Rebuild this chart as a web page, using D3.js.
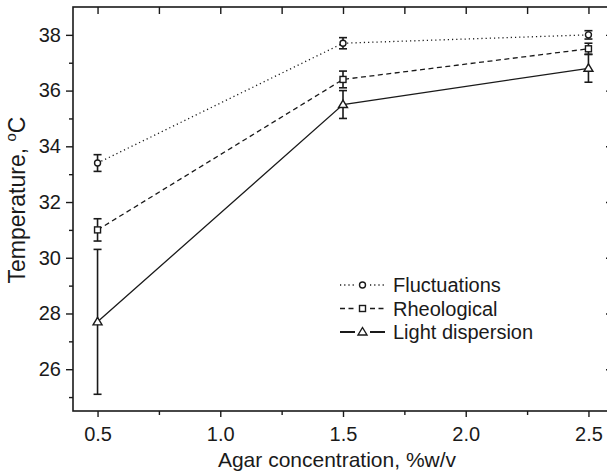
<!DOCTYPE html>
<html>
<head>
<meta charset="utf-8">
<script src="https://cdn.jsdelivr.net/npm/d3@7/dist/d3.min.js"></script>
<style>
    body { margin: 0; background: white; }
    svg { display: block; font-family: 'Liberation Sans', Arial, sans-serif; }
</style>
</head>
<body>
<svg id="chart"></svg>
<script>
// agar concentration, %w/v
var concentrations = [0.5, 1.5, 2.5];

var fluctuations = [33.4, 37.7, 38.0];
var fluctuationsErr = [0.3, 0.2, 0.15];
var rheological = [31.0, 36.4, 37.5];
var rheologicalErr = [0.4, 0.3, 0.2];
var lightDispersion = [27.7, 35.5, 36.8];
var lightDispersionErr = [2.6, 0.5, 0.5];

var seriesNames = ['Fluctuations', 'Rheological', 'Light dispersion'];

var xMajorTicks = [0.5, 1.0, 1.5, 2.0, 2.5];
var xMinorTicks = [0.75, 1.25, 1.75, 2.25];
var yMajorTicks = [26, 28, 30, 32, 34, 36, 38];
var yMinorTicks = [25, 27, 29, 31, 33, 35, 37];

const width = 607;
const height = 473;
// plot box runs a little past the right edge of the picture
const margin = { top: 7, right: -6, bottom: 62, left: 73 };
const ink = '#1a1a1a';

var svg = d3.select('#chart').attr('width', width).attr('height', height);

var x = d3
    .scaleLinear()
    .domain([0.4, 2.6])
    .range([margin.left, width - margin.right]);
var y = d3
    .scaleLinear()
    .domain([24.5, 39])
    .range([height - margin.bottom, margin.top]);

const series = [
    { name: seriesNames[0], values: fluctuations, err: fluctuationsErr, dash: '1.2,3', marker: 'circle' },
    { name: seriesNames[1], values: rheological, err: rheologicalErr, dash: '5,3.5', marker: 'square' },
    { name: seriesNames[2], values: lightDispersion, err: lightDispersionErr, dash: null, marker: 'triangle' },
];

// axes, ticks drawn with d3 axis generators
function fmt(d) {
    return d3.format('.1f')(d);
}
const bottom = height - margin.bottom;
const right = width - margin.right;

svg.append('g')
    .attr('transform', 'translate(0,' + bottom + ')')
    .call(d3.axisBottom(x).tickValues(xMinorTicks).tickSize(4).tickFormat(''));
svg.append('g')
    .attr('class', 'x-major')
    .attr('transform', 'translate(0,' + bottom + ')')
    .call(d3.axisBottom(x).tickValues(xMajorTicks).tickSize(6).tickPadding(10).tickFormat(fmt));
svg.append('g')
    .attr('transform', 'translate(0,' + margin.top + ')')
    .call(d3.axisBottom(x).tickValues(xMajorTicks.concat(xMinorTicks)).tickSize(7).tickFormat(''));

svg.append('g')
    .attr('transform', 'translate(' + margin.left + ',0)')
    .call(d3.axisLeft(y).tickValues(yMinorTicks).tickSize(4).tickFormat(''));
svg.append('g')
    .attr('class', 'y-major')
    .attr('transform', 'translate(' + margin.left + ',0)')
    .call(d3.axisLeft(y).tickValues(yMajorTicks).tickSize(7).tickPadding(5).tickFormat(d3.format('d')));
svg.append('g')
    .attr('transform', 'translate(' + right + ',0)')
    .call(d3.axisLeft(y).tickValues(yMajorTicks).tickSize(7).tickFormat(''));

svg.selectAll('.domain').remove();
svg.selectAll('.tick line').attr('stroke', ink).attr('stroke-width', 1.4);
svg.selectAll('.tick text')
    .attr('fill', ink)
    .style('font-size', '20px')
    .style('font-family', "'Liberation Sans', Arial, sans-serif");

// frame
svg.append('rect')
    .attr('x', margin.left)
    .attr('y', margin.top)
    .attr('width', right - margin.left)
    .attr('height', bottom - margin.top)
    .attr('fill', 'none')
    .attr('stroke', ink)
    .attr('stroke-width', 1.6);

// axis titles
svg.append('text')
    .attr('x', (margin.left + right) / 2 - 6)
    .attr('y', 467)
    .attr('text-anchor', 'middle')
    .attr('fill', ink)
    .style('font-size', '21px')
    .text('Agar concentration, %w/v');

var ytitle = svg.append('text')
    .attr('transform', 'translate(25,200) rotate(-90)')
    .attr('text-anchor', 'middle')
    .attr('fill', ink)
    .style('font-size', '23px');
ytitle.append('tspan').text('Temperature, ');
ytitle.append('tspan').attr('dy', -9).style('font-size', '15px').text('o');
ytitle.append('tspan').attr('dy', 9).text('C');

// markers
function drawMarker(g, kind, cx, cy) {
    if (kind === 'circle') {
        g.append('circle').attr('cx', cx).attr('cy', cy).attr('r', 3);
    } else if (kind === 'square') {
        g.append('rect').attr('x', cx - 3).attr('y', cy - 3).attr('width', 6).attr('height', 6);
    } else {
        g.append('path').attr('d', 'M' + cx + ',' + (cy - 4.5) + 'L' + (cx + 4.5) + ',' + (cy + 3) + 'L' + (cx - 4.5) + ',' + (cy + 3) + 'Z');
    }
}

var line = d3
    .line()
    .x(function (d) { return x(d.x); })
    .y(function (d) { return y(d.y); });

series.forEach(function (s) {
    var pts = concentrations.map(function (c, i) {
        return { x: c, y: s.values[i], e: s.err[i] };
    });

    svg.append('path')
        .datum(pts)
        .attr('d', line)
        .attr('fill', 'none')
        .attr('stroke', ink)
        .attr('stroke-width', 1.3)
        .attr('stroke-dasharray', s.dash);

    var eb = svg.append('g').attr('stroke', ink).attr('stroke-width', 1.6);
    pts.forEach(function (p) {
        var cx = x(p.x);
        eb.append('line').attr('x1', cx).attr('x2', cx).attr('y1', y(p.y - p.e)).attr('y2', y(p.y + p.e));
        eb.append('line').attr('x1', cx - 4).attr('x2', cx + 4).attr('y1', y(p.y - p.e)).attr('y2', y(p.y - p.e));
        eb.append('line').attr('x1', cx - 4).attr('x2', cx + 4).attr('y1', y(p.y + p.e)).attr('y2', y(p.y + p.e));
    });

    var mk = svg.append('g').attr('fill', 'white').attr('stroke', ink).attr('stroke-width', 1.4);
    pts.forEach(function (p) {
        drawMarker(mk, s.marker, x(p.x), y(p.y));
    });
});

// legend
var legend = svg.append('g').attr('transform', 'translate(340,285)');
series.forEach(function (s, i) {
    var row = legend.append('g').attr('transform', 'translate(0,' + i * 23.5 + ')');
    row.append('line').attr('x1', 0).attr('x2', 15).attr('y1', 0).attr('y2', 0)
        .attr('stroke', ink).attr('stroke-width', s.dash ? 1.3 : 2).attr('stroke-dasharray', s.dash);
    row.append('line').attr('x1', 30).attr('x2', 45).attr('y1', 0).attr('y2', 0)
        .attr('stroke', ink).attr('stroke-width', s.dash ? 1.3 : 2).attr('stroke-dasharray', s.dash);
    var mk = row.append('g').attr('fill', 'white').attr('stroke', ink).attr('stroke-width', 1.4);
    drawMarker(mk, s.marker, 22.5, 0);
    row.append('text')
        .attr('x', 53)
        .attr('y', 7)
        .attr('fill', ink)
        .style('font-size', '20px')
        .text(s.name);
});
</script>
</body>
</html>
